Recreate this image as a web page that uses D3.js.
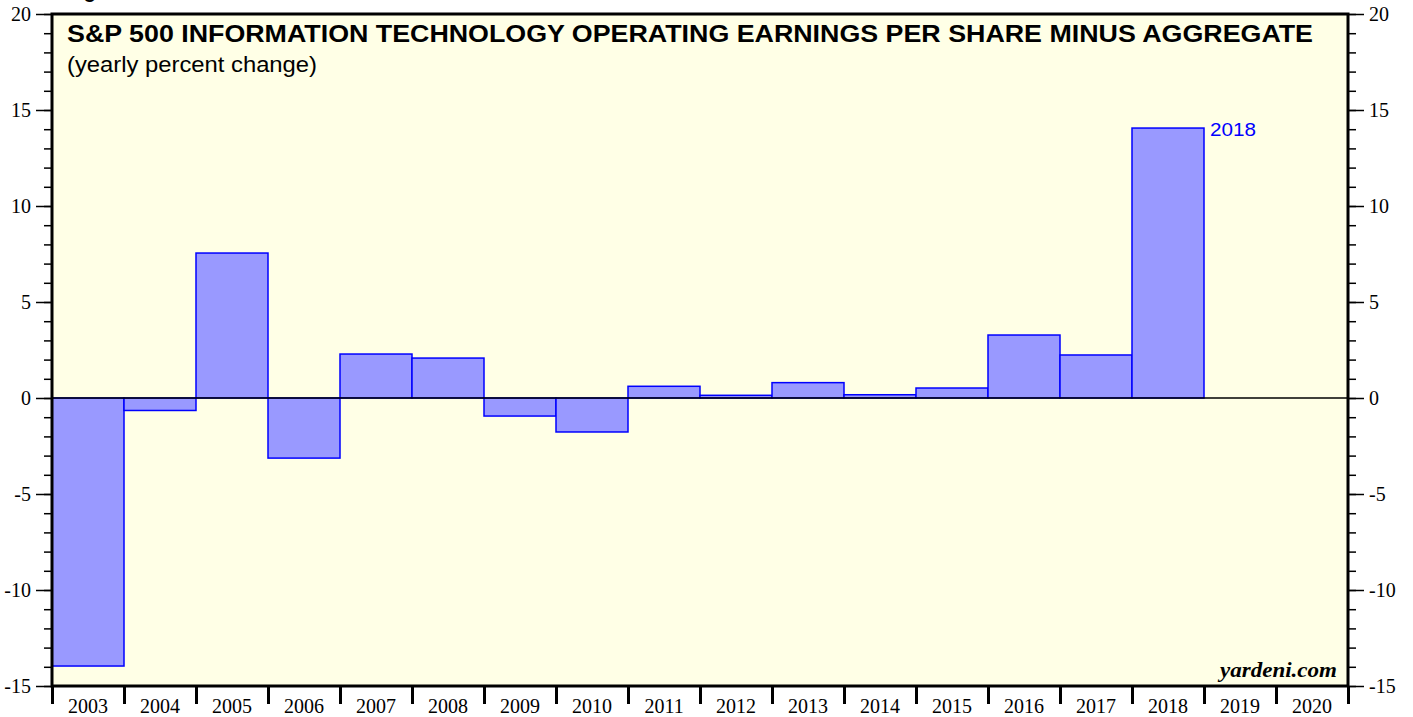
<!DOCTYPE html>
<html>
<head>
<meta charset="utf-8">
<script src="https://cdn.jsdelivr.net/npm/d3@7"></script>
<style>
  body { margin: 0; background: #fff; }
  svg { display: block; }
</style>
</head>
<body>
<div id="chart"></div>
<script>
var svgWidth = 1413;
var svgHeight = 717;

var margin = { top: 14, right: 65, bottom: 31, left: 52 };
var width = svgWidth - margin.left - margin.right;
var height = svgHeight - margin.top - margin.bottom;

// data
var years = ["2003", "2004", "2005", "2006", "2007", "2008", "2009", "2010", "2011",
             "2012", "2013", "2014", "2015", "2016", "2017", "2018", "2019", "2020"];
var values = [-13.96, -0.65, 7.55, -3.13, 2.29, 2.08, -0.94, -1.77, 0.61,
              0.14, 0.80, 0.17, 0.52, 3.28, 2.24, 14.06, null, null];
var yTicks = [-15, -10, -5, 0, 5, 10, 15, 20];

var svg = d3.select("#chart")
  .append("svg")
  .attr("width", svgWidth)
  .attr("height", svgHeight);

var chartGroup = svg.append("g")
  .attr("transform", `translate(${margin.left}, ${margin.top})`);

var xScale = d3.scaleBand()
  .domain(years)
  .range([0, width])
  .padding(0);

var yScale = d3.scaleLinear()
  .domain([-15, 20])
  .range([height, 0]);

// plot background
chartGroup.append("rect")
  .attr("width", width)
  .attr("height", height)
  .attr("fill", "#ffffe6");

// bars
var barData = years.map((y, i) => ({ year: y, value: values[i] })).filter(d => d.value !== null);
chartGroup.selectAll(".bar")
  .data(barData)
  .enter()
  .append("rect")
  .attr("class", "bar")
  .attr("x", d => xScale(d.year))
  .attr("width", xScale.bandwidth())
  .attr("y", d => yScale(Math.max(0, d.value)))
  .attr("height", d => Math.abs(yScale(d.value) - yScale(0)))
  .attr("fill", "#9999ff")
  .attr("stroke", "#0000ff")
  .attr("stroke-width", 1.5);

// zero line
chartGroup.append("line")
  .attr("x1", 0).attr("x2", width)
  .attr("y1", yScale(0)).attr("y2", yScale(0))
  .attr("stroke", "#000")
  .attr("stroke-width", 1.5);

// label on last bar
var last = barData[barData.length - 1];
chartGroup.append("text")
  .attr("x", xScale(last.year) + xScale.bandwidth() + 6)
  .attr("y", yScale(last.value) + 8)
  .attr("font-family", "Liberation Sans, Arial, sans-serif")
  .attr("font-size", "19px")
  .attr("textLength", 46)
  .attr("lengthAdjust", "spacingAndGlyphs")
  .attr("fill", "#0000ff")
  .text(last.year);

// y axes (major + minor ticks)
var fmt = d => String(d);
var leftMajor = d3.axisLeft(yScale).tickValues(yTicks).tickSize(16).tickPadding(5).tickFormat(fmt);
var leftMinor = d3.axisLeft(yScale).ticks(35).tickSize(8).tickFormat("");
var rightMajor = d3.axisRight(yScale).tickValues(yTicks).tickSize(16).tickPadding(5).tickFormat(fmt);
var rightMinor = d3.axisRight(yScale).ticks(35).tickSize(8).tickFormat("");

function styleAxis(g) {
  g.select(".domain").remove();
  g.selectAll("line").attr("stroke", "#000").attr("stroke-width", 1.5);
  g.selectAll("text")
    .attr("font-family", "Liberation Serif, Times New Roman, serif")
    .attr("font-size", "20px")
    .attr("fill", "#000");
}

chartGroup.append("g").call(leftMinor).call(styleAxis);
chartGroup.append("g").call(leftMajor).call(styleAxis);
chartGroup.append("g").attr("transform", `translate(${width}, 0)`).call(rightMinor).call(styleAxis);
chartGroup.append("g").attr("transform", `translate(${width}, 0)`).call(rightMajor).call(styleAxis);

// x axis: ticks at band edges, labels centred
var xEdges = d3.scaleLinear().domain([0, years.length]).range([0, width]);
var bottomTicks = d3.axisBottom(xEdges).tickValues(d3.range(0, years.length + 1)).tickSize(18).tickFormat("");
chartGroup.append("g")
  .attr("transform", `translate(0, ${height})`)
  .call(bottomTicks)
  .call(g => {
    g.select(".domain").remove();
    g.selectAll("line").attr("stroke", "#000").attr("stroke-width", 3);
  });

var bottomAxis = d3.axisBottom(xScale).tickSize(0).tickPadding(13);
chartGroup.append("g")
  .attr("transform", `translate(0, ${height})`)
  .call(bottomAxis)
  .call(g => {
    g.select(".domain").remove();
    g.selectAll("text")
      .attr("font-family", "Liberation Serif, Times New Roman, serif")
      .attr("font-size", "20px")
      .attr("fill", "#000");
  });

// plot frame
chartGroup.append("rect")
  .attr("width", width)
  .attr("height", height)
  .attr("fill", "none")
  .attr("stroke", "#000")
  .attr("stroke-width", 3);

// titles
chartGroup.append("text")
  .attr("x", 15)
  .attr("y", 28)
  .attr("font-family", "Liberation Sans, Arial, sans-serif")
  .attr("font-weight", "bold")
  .attr("font-size", "24px")
  .attr("textLength", 1246)
  .attr("lengthAdjust", "spacingAndGlyphs")
  .text("S&P 500 INFORMATION TECHNOLOGY OPERATING EARNINGS PER SHARE MINUS AGGREGATE");

chartGroup.append("text")
  .attr("x", 15)
  .attr("y", 58)
  .attr("font-family", "Liberation Sans, Arial, sans-serif")
  .attr("font-size", "22px")
  .attr("textLength", 250)
  .attr("lengthAdjust", "spacingAndGlyphs")
  .text("(yearly percent change)");

chartGroup.append("text")
  .attr("x", width - 11)
  .attr("y", height - 9)
  .attr("text-anchor", "end")
  .attr("font-family", "Liberation Serif, Times New Roman, serif")
  .attr("font-weight", "bold")
  .attr("font-style", "italic")
  .attr("font-size", "22px")
  .attr("textLength", 117)
  .attr("lengthAdjust", "spacingAndGlyphs")
  .text("yardeni.com");

// cut-off heading above the frame
svg.append("text")
  .attr("x", 66)
  .attr("y", -2)
  .attr("font-family", "Liberation Sans, Arial, sans-serif")
  .attr("font-weight", "bold")
  .attr("font-size", "20px")
  .text("Figure");
</script>
</body>
</html>
